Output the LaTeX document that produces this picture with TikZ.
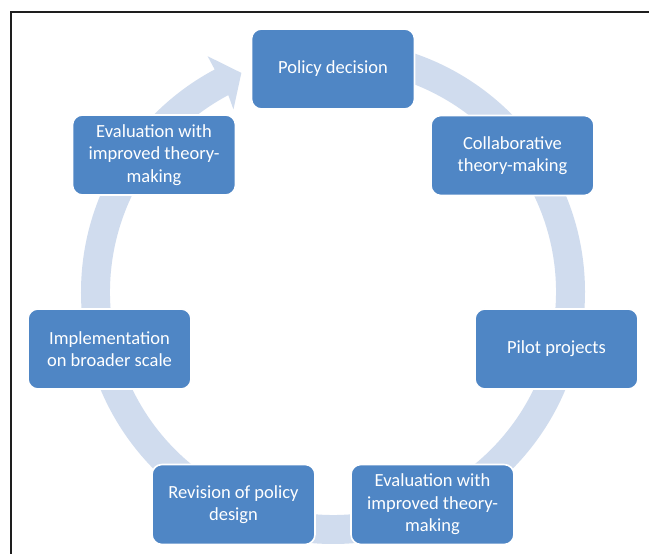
\documentclass[tikz,border=0pt]{standalone}
\usepackage{fontspec}
\setmainfont{Carlito}
\usetikzlibrary{calc}
\definecolor{boxblue}{RGB}{79,134,197}
\definecolor{ringblue}{RGB}{208,220,238}
\definecolor{framecol}{RGB}{30,30,30}
\tikzset{
  cyclebox/.style={rectangle, rounded corners=10pt, fill=boxblue, draw=white,
    line width=1.6pt, minimum width=163pt, minimum height=80pt, text=white,
    align=center, inner sep=2pt, font=\fontsize{18.5}{22.5}\selectfont},
  ringfill/.style={fill=ringblue, draw=none},
  framestyle/.style={draw=framecol, line width=1.3pt}
}
\begin{document}
\begin{tikzpicture}[x=1pt,y=1pt]
\useasboundingbox (0,0) rectangle (649,554);
\fill[white] (0,0) rectangle (649,554);
% frame
\coordinate (fa) at (649,542);
\coordinate (fb) at (11,542);
\coordinate (fc) at (11,0);
\draw[framestyle] (fa) -- (fb) -- (fc);
% ring with arrowhead
\coordinate (C) at (333,262);
\fill[ringfill] ($(C)+(88:252)$) arc[start angle=88, end angle=-242, radius=252]
  -- ($(C)+(118:267)$) -- ($(C)+(112.7:237.5)$) -- ($(C)+(118.6:208)$)
  -- ($(C)+(118:223)$) arc[start angle=-242, end angle=88, radius=223] -- cycle;
% boxes
\node[cyclebox] (policy) at (333,485) {Policy decision};
\node[cyclebox] (collab) at (512.5,398.5) {Collaborative\\theory-making};
\node[cyclebox] (pilot) at (556.5,205) {Pilot projects};
\node[cyclebox] (evalb) at (432.5,49.5) {Evaluation with\\improved theory-\\making};
\node[cyclebox] (revision) at (233.5,49.5) {Revision of policy\\design};
\node[cyclebox] (impl) at (109.5,205) {Implementation\\on broader scale};
\node[cyclebox] (evalt) at (154,399) {Evaluation with\\improved theory-\\making};
\end{tikzpicture}
\end{document}
